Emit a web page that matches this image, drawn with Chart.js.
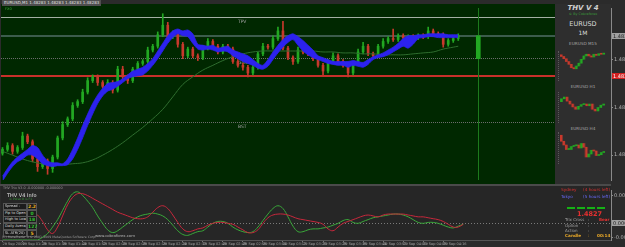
<!DOCTYPE html>
<html>
<head>
<meta charset="utf-8">
<script src="https://cdn.jsdelivr.net/npm/chart.js@4.4.1/dist/chart.umd.min.js"></script>
<style>
  html, body { margin: 0; padding: 0; background: #2b2b2b; }
  #wrap { position: relative; width: 625px; height: 247px; overflow: hidden; background: #2b2b2b; font-family: "DejaVu Sans", sans-serif; }
  .a { position: absolute; white-space: nowrap; line-height: 1; }
  #mainBg { position: absolute; left: 1px; top: 4px; width: 554px; height: 180px; background: #002800; }
  #mainCv, #oscCv { position: absolute; left: 0; }
  #mainCv { top: 4px; }
  #sep { position: absolute; left: 0; top: 184px; width: 611px; height: 2px; background: #4a4a4a; }
  #oscBg { position: absolute; left: 1px; top: 186px; width: 610px; height: 54px; background: #262626; }
  #oscCv { top: 186px; }
  #panel { position: absolute; left: 555px; top: 4px; width: 56px; height: 180px; background: #2e2e2e; }
  .mini { position: absolute; left: 558px; border-left: 1px dotted #5a5a5a; }
  #info { position: absolute; left: 1px; top: 187px; width: 36px; height: 52px; background: #262626; }
  .lbl { position: absolute; left: 3px; width: 21px; height: 5px; border: 1px solid #555; background: #1c1c1c; color: #ddd; font-size: 3.6px; line-height: 5px; padding-left: 1px; white-space: nowrap; overflow: hidden; }
  .val { position: absolute; left: 27px; width: 8px; height: 5px; border: 1px solid #555; background: #1c1c1c; font-size: 4.5px; line-height: 5px; text-align: center; font-weight: bold; }
  .dash { position: absolute; top: 207px; width: 8px; height: 2px; background: #16b016; }
</style>
</head>
<body>
<div id="wrap">
  <div id="mainBg"></div>
  <canvas id="mainCv" width="625" height="180"></canvas>
  <div id="sep"></div>
  <div id="oscBg"></div>
  <canvas id="oscCv" width="625" height="61"></canvas>

  <div class="a" style="left:2px;top:0;padding:1px 2px;background:#4e4e4e;color:#e0e0e0;font-size:4px;">EURUSD,M1 1.48283 1.48283 1.48283 1.48283</div>
  <div class="a" style="left:5px;top:8px;color:#3aa03a;font-size:3.6px;">FX0</div>

  <div id="panel"></div>
  <div class="a" style="left:555px;width:56px;top:5px;text-align:center;color:#d0d0d0;font-size:7px;font-style:italic;font-weight:bold;">THV V 4</div>
  <div class="a" style="left:555px;width:56px;top:13px;text-align:center;color:#3a9a3a;font-size:3.4px;">© By Cobraforex</div>
  <div class="a" style="left:555px;width:56px;top:21px;text-align:center;color:#dadada;font-size:6.5px;">EURUSD</div>
  <div class="a" style="left:555px;width:56px;top:30px;text-align:center;color:#dadada;font-size:6px;">1M</div>
  <div class="a" style="left:555px;width:56px;top:42px;text-align:center;color:#a8a8a8;font-size:4.2px;">EURUSD M15</div>
  <div class="a" style="left:555px;width:56px;top:85px;text-align:center;color:#a8a8a8;font-size:4.2px;">EURUSD H1</div>
  <div class="a" style="left:555px;width:56px;top:127px;text-align:center;color:#a8a8a8;font-size:4.2px;">EURUSD H4</div>
  <canvas id="m15" class="mini" width="48" height="30" style="top:51px;"></canvas>
  <canvas id="h1" class="mini" width="48" height="31" style="top:92px;"></canvas>
  <canvas id="h4" class="mini" width="48" height="32" style="top:132px;"></canvas>

  <div id="info"></div>
  <div class="a" style="left:3px;top:187px;color:#9a9a9a;font-size:3.4px;">THV Trix V3.0 -0.000000 -0.000000</div>
  <div class="a" style="left:7px;top:193px;color:#e0e0e0;font-size:5px;">THV V4 Info</div>
  <div class="a" style="left:9px;top:198px;color:#3a9a3a;font-size:3px;">© Pulse O is F1</div>
  <div class="lbl" style="top:203px;">Spread :</div><div class="val" style="top:203px;color:#e8b020;">2.2</div>
  <div class="lbl" style="top:210px;">Pip to Open :</div><div class="val" style="top:210px;color:#30c030;">0</div>
  <div class="lbl" style="top:216px;">High to Low :</div><div class="val" style="top:216px;color:#30c030;">18</div>
  <div class="lbl" style="top:223px;">Daily Average :</div><div class="val" style="top:223px;color:#30c030;">127</div>
  <div class="lbl" style="top:230px;">SL ATR(20) SL :</div><div class="val" style="top:230px;color:#e8b020;">5</div>
  <div class="a" style="left:2px;top:236px;color:#9a9a9a;font-size:3.2px;">(C) MetaTrader 4 © 2001-2009 MetaQuotes Software Corp.</div>
  <div class="a" style="left:95px;top:234px;color:#b8b8b8;font-size:3.8px;">www.cobraforex.com</div>

  <div class="a" style="left:561px;top:188px;color:#d83030;font-size:4.2px;">Sydney</div>
  <div class="a" style="left:583px;top:188px;color:#d83030;font-size:4.2px;">(4 hours left)</div>
  <div class="a" style="left:561px;top:195px;color:#6a6aff;font-size:4.2px;">Tokyo</div>
  <div class="a" style="left:583px;top:195px;color:#6a6aff;font-size:4.2px;">(5 hours left)</div>
  <div class="dash" style="left:567px;"></div><div class="dash" style="left:577px;"></div>
  <div class="dash" style="left:587px;"></div><div class="dash" style="left:597px;"></div>
  <div class="a" style="left:577px;top:211px;color:#e83030;font-size:6.5px;font-weight:bold;">1.4827</div>
  <div class="a" style="left:565px;top:218px;color:#a0a0a0;font-size:4px;">Trix Cross</div>
  <div class="a" style="left:588px;top:218px;color:#a0a0a0;font-size:4px;">:</div>
  <div class="a" style="left:599px;top:218px;color:#e83030;font-size:4px;font-weight:bold;">Bear</div>
  <div class="a" style="left:565px;top:224px;color:#a0a0a0;font-size:4px;">Option</div>
  <div class="a" style="left:588px;top:224px;color:#a0a0a0;font-size:4px;">:</div>
  <div class="a" style="left:565px;top:229px;color:#a0a0a0;font-size:4px;">Action</div>
  <div class="a" style="left:588px;top:229px;color:#a0a0a0;font-size:4px;">:</div>
  <div class="a" style="left:565px;top:234px;color:#e8a828;font-size:4.2px;font-weight:bold;">Candle</div>
  <div class="a" style="left:588px;top:234px;color:#e8a828;font-size:4.2px;">:</div>
  <div class="a" style="left:597px;top:234px;color:#e8a828;font-size:4.2px;font-weight:bold;">00:14</div>
</div>

<script>
// ---- price data (EURUSD M1) ----
const PIP = 0.0001;
const firstOpen = 1.48104;
const closes = [
  1.48112, 1.48120, 1.48108, 1.48116, 1.48140, 1.48128, 1.48092, 1.48076, 1.48088, 1.48072,
  1.48096, 1.48136, 1.48164, 1.48176, 1.48204, 1.48212, 1.48232, 1.48256, 1.48264, 1.48252,
  1.48244, 1.48252, 1.48236, 1.48280, 1.48264, 1.48256, 1.48280, 1.48292, 1.48296, 1.48320,
  1.48328, 1.48352, 1.48372, 1.48348, 1.48356, 1.48332, 1.48308, 1.48322, 1.48308, 1.48304,
  1.48324, 1.48338, 1.48328, 1.48316, 1.48328, 1.48322, 1.48296, 1.48288, 1.48284, 1.48272,
  1.48284, 1.48312, 1.48328, 1.48326, 1.48344, 1.48360, 1.48324, 1.48304, 1.48296, 1.48320,
  1.48316, 1.48312, 1.48302, 1.48288, 1.48276, 1.48296, 1.48308, 1.48296, 1.48288, 1.48272,
  1.48292, 1.48316, 1.48328, 1.48312, 1.48308, 1.48328, 1.48338, 1.48344, 1.48342, 1.48350,
  1.48346, 1.48348, 1.48346, 1.48350, 1.48348, 1.48360, 1.48354, 1.48352, 1.48332, 1.48340,
  1.48344, 1.48350
];
// wick lengths in pips
const wickUp = [
  0.4, 0.6, 0.4, 0.4, 0.8, 0.4, 0.4, 0.4, 0.6, 0.4,
  0.4, 0.4, 0.6, 0.4, 0.6, 0.4, 0.6, 0.6, 0.4, 0.4,
  0.4, 0.6, 0.4, 0.6, 0.6, 0.4, 0.4, 0.4, 0.4, 0.6,
  0.4, 0.6, 2.4, 0.6, 0.4, 0.4, 0.4, 0.4, 0.4, 0.4,
  0.6, 0.6, 0.4, 0.4, 0.4, 0.4, 0.4, 0.4, 0.4, 0.4,
  0.4, 0.4, 0.6, 0.4, 0.6, 0.8, 2.0, 0.4, 0.4, 0.6,
  0.4, 0.4, 0.4, 0.4, 0.4, 0.4, 0.6, 0.4, 0.4, 0.4,
  0.4, 0.6, 0.8, 0.4, 0.4, 0.4, 0.6, 0.4, 2.0, 0.4,
  0.4, 0.4, 0.4, 0.4, 0.4, 0.8, 0.4, 0.4, 0.4, 0.4,
  0.6, 0.4
];
const wickDn = [
  0.4, 0.4, 0.6, 0.4, 0.4, 0.4, 0.6, 1.0, 0.4, 1.2,
  0.8, 0.4, 0.4, 0.4, 0.4, 0.4, 0.4, 0.4, 0.4, 0.6,
  0.4, 0.4, 0.6, 0.4, 0.4, 0.6, 0.4, 0.4, 0.4, 0.4,
  0.4, 0.4, 0.4, 0.4, 0.4, 0.6, 0.6, 0.4, 0.4, 0.6,
  0.4, 0.4, 0.4, 0.4, 0.4, 0.4, 0.4, 0.4, 0.6, 0.8,
  0.4, 0.4, 0.4, 0.4, 0.4, 0.4, 0.4, 0.4, 0.6, 0.4,
  0.4, 0.4, 0.4, 0.4, 0.8, 0.4, 0.4, 0.4, 0.4, 0.8,
  0.4, 0.4, 0.4, 0.4, 0.6, 0.4, 0.4, 0.4, 0.4, 0.4,
  0.4, 0.4, 0.4, 0.4, 0.4, 0.4, 0.4, 0.4, 0.6, 0.4,
  0.4, 0.4
];
// blue band (upper / lower edge)
const bandTop = [
  1.48056, 1.48072, 1.48086, 1.48096, 1.48104, 1.48112, 1.48120, 1.48116, 1.48100, 1.48088,
  1.48084, 1.48084, 1.48082, 1.48092, 1.48112, 1.48136, 1.48162, 1.48186, 1.48208, 1.48226,
  1.48240, 1.48250, 1.48252, 1.48254, 1.48260, 1.48268, 1.48276, 1.48280, 1.48284, 1.48292,
  1.48302, 1.48318, 1.48334, 1.48350, 1.48360, 1.48364, 1.48360, 1.48362, 1.48354, 1.48332,
  1.48330, 1.48328, 1.48330, 1.48324, 1.48326, 1.48328, 1.48320, 1.48316, 1.48312, 1.48308,
  1.48300, 1.48292, 1.48288, 1.48300, 1.48316, 1.48330, 1.48342, 1.48350, 1.48354, 1.48348,
  1.48340, 1.48330, 1.48320, 1.48308, 1.48304, 1.48300, 1.48296, 1.48296, 1.48296, 1.48296,
  1.48298, 1.48296, 1.48294, 1.48300, 1.48306, 1.48310, 1.48314, 1.48320, 1.48326, 1.48334,
  1.48344, 1.48350, 1.48350, 1.48352, 1.48352, 1.48354, 1.48354, 1.48354, 1.48354, 1.48352,
  1.48352, 1.48352
];
const bandBottom = [
  1.48046, 1.48062, 1.48076, 1.48086, 1.48092, 1.48100, 1.48100, 1.48092, 1.48082, 1.48078,
  1.48076, 1.48078, 1.48078, 1.48080, 1.48092, 1.48112, 1.48136, 1.48162, 1.48186, 1.48208,
  1.48224, 1.48234, 1.48238, 1.48244, 1.48252, 1.48260, 1.48264, 1.48266, 1.48268, 1.48276,
  1.48288, 1.48302, 1.48318, 1.48334, 1.48346, 1.48354, 1.48350, 1.48348, 1.48334, 1.48322,
  1.48320, 1.48322, 1.48320, 1.48316, 1.48318, 1.48316, 1.48308, 1.48302, 1.48296, 1.48292,
  1.48288, 1.48282, 1.48280, 1.48286, 1.48300, 1.48314, 1.48326, 1.48336, 1.48342, 1.48330,
  1.48318, 1.48310, 1.48304, 1.48300, 1.48296, 1.48292, 1.48290, 1.48288, 1.48288, 1.48284,
  1.48288, 1.48286, 1.48284, 1.48290, 1.48300, 1.48304, 1.48306, 1.48310, 1.48316, 1.48322,
  1.48328, 1.48324, 1.48332, 1.48344, 1.48346, 1.48348, 1.48348, 1.48346, 1.48346, 1.48346,
  1.48346, 1.48346
];
// slow moving average
const maLine = [
  1.48108, null, 1.48100, null, 1.48092, null, 1.48086, null, 1.48082, null,
  1.48080, null, 1.48080, null, 1.48082, null, 1.48084, null, 1.48090, null,
  1.48100, null, 1.48112, null, 1.48126, null, 1.48142, null, 1.48158, null,
  1.48176, null, 1.48196, null, 1.48222, null, 1.48248, null, 1.48264, null,
  1.48278, null, 1.48288, null, 1.48298, null, 1.48306, null, 1.48312, null,
  1.48316, null, 1.48318, null, 1.48318, null, 1.48318, null, 1.48318, null,
  1.48318, null, 1.48318, null, 1.48316, null, 1.48316, null, 1.48314, null,
  1.48314, null, 1.48312, null, 1.48312, null, 1.48310, null, 1.48310, null,
  1.48310, null, 1.48312, null, 1.48314, null, 1.48316, null, 1.48322, null,
  1.48326, 1.48328
];
const signalBar = [1.48302, 1.48350];
const signalIndex = 95;
const levelPrices = [1.48390, 1.48350, 1.48304, 1.48266, 1.48170];
const levelNames = ["TPV", "", "Green", "", "BST"];
const bidPrice = 1.48350;
const markPrice = 1.48266;

// ---- oscillator (THV Trix) ----
const oscRed = [
  2.2, 2.0, 1.8, 1.6, 1.5, 1.4, 1.2, 0.9, 0.2, -0.7,
  -1.1, -0.4, 0.8, 2.0, 2.8, 3.2, 3.2, 3.0, 2.7, 2.4,
  2.1, 1.8, 1.5, 1.2, 1.0, 0.8, 0.6, 0.5, 0.5, 0.7,
  1.2, 1.7, 1.9, 1.6, 0.9, 0.1, -0.6, -0.9, -0.8, -0.6,
  -0.5, -0.2, 0.0, 0.1, 0.1, 0.0, -0.1, -0.4, -0.7, -1.0,
  -1.0, -0.7, 0.0, 0.6, 0.9, 1.0, 1.0, 0.9, 0.7, 0.5,
  0.4, 0.3, 0.2, 0.1, -0.1, -0.6, -0.8, -0.4, 0.0, 0.2,
  0.4, 0.6, 0.8, 0.9, 0.8, 0.7, 0.9, 1.0, 1.0, 1.0,
  1.0, 0.9, 0.8, 0.7, 0.7, 0.6, 0.5, 0.4, 0.2, -0.1,
  -0.4, -0.4, -0.1
];
const oscGreen = [
  -1.8, -1.8, -1.8, -1.8, -1.8, -1.8, -1.8, -1.8, -1.5, -1.1,
  -0.4, 0.4, 1.4, 2.4, 3.2, 3.4, 3.0, 2.4, 1.7, 0.8,
  0.0, -0.7, -1.0, -0.8, -0.4, 0.0, 0.4, 0.7, 0.9, 1.0,
  1.1, 1.0, 0.8, 0.4, -0.2, -0.8, -1.2, -1.3, -1.1, -0.9,
  -0.8, -0.4, 0.0, 0.2, 0.2, 0.0, -0.4, -0.7, -0.9, -1.0,
  -0.9, -0.4, 0.3, 1.0, 1.6, 1.9, 1.6, 0.7, -0.3, -0.9,
  -0.9, -0.7, -0.6, -0.6, -0.5, -0.4, -0.2, 0.0, 0.3, 0.4,
  0.1, 0.0, 0.2, 0.4, 0.6, 0.7, 0.8, 0.9, 1.0, 1.0,
  0.9, 0.7, 0.4, 0.1, 0.0, 0.1, 0.1, 0.0, -0.2, -0.4,
  -0.5, -0.3, -0.1
];
const timeTicks = [
  "29 Sep 2009", "29 Sep 01:28", "29 Sep 01:36", "29 Sep 01:44", "29 Sep 01:52", "29 Sep 02:00",
  "29 Sep 02:08", "29 Sep 02:16", "29 Sep 02:24", "29 Sep 02:32", "29 Sep 02:40", "29 Sep 02:48",
  "29 Sep 02:56", "29 Sep 03:04", "29 Sep 03:12", "29 Sep 03:20", "29 Sep 03:28", "29 Sep 03:36",
  "29 Sep 03:44", "29 Sep 03:52", "29 Sep 04:00", "29 Sep 04:08", "29 Sep 04:16"
];

// ---- mini charts (right panel) ----
const m15Open = 1.4845;
const m15Closes = [1.4842, 1.4838, 1.4833, 1.4828, 1.4822, 1.4820, 1.4825, 1.4830, 1.4837, 1.4843, 1.4846, 1.4843, 1.4841, 1.4846, 1.4844, 1.4847, 1.4846, 1.4848];
const h1Open = 1.4870;
const h1Closes = [1.4880, 1.4886, 1.4872, 1.4862, 1.4852, 1.4844, 1.4854, 1.4860, 1.4862, 1.4856, 1.4862, 1.4844, 1.4838, 1.4850, 1.4858, 1.4862];
const h4Open = 1.4785;
const h4Closes = [1.4745, 1.4720, 1.4690, 1.4690, 1.4710, 1.4715, 1.4720, 1.4700, 1.4730, 1.4705, 1.4640, 1.4660, 1.4685, 1.4680, 1.4650, 1.4655, 1.4670, 1.4670];

const UP = "#22a822";
const DOWN = "#c8392c";
const BAND = "#2c22ee";
const N = 122;
const cats = Array.from({ length: N }, (_, i) => i);
const FONT = '"DejaVu Sans", sans-serif';

const opens = closes.map((c, i) => (i === 0 ? firstOpen : closes[i - 1]));
const bodies = closes.map((c, i) => [opens[i], c]);
const wicks = closes.map((c, i) => [Math.min(opens[i], c) - wickDn[i] * PIP, Math.max(opens[i], c) + wickUp[i] * PIP]);
const candleCol = closes.map((c, i) => (c >= opens[i] ? UP : DOWN));
const signalData = cats.map((i) => (i === signalIndex ? signalBar : null));

const levelStyles = [
  { color: "#a4b0a4", width: 1, dash: [] },
  { color: "#3c5c4c", width: 2, dash: [] },
  { color: "#6c6c6c", width: 1, dash: [1, 1] },
  { color: "#c8302a", width: 2, dash: [] },
  { color: "#6c6c6c", width: 1, dash: [1, 1] },
];

const fixWidth = (w) => (scale) => { scale.width = w; };

const paneLines = {
  id: "paneLines",
  beforeDatasetsDraw(chart) {
    const { ctx, chartArea: a, scales: { x, y } } = chart;
    ctx.save();
    levelPrices.forEach((p, k) => {
      const st = levelStyles[k];
      const py = Math.round(y.getPixelForValue(p)) + (st.width === 1 ? 0.5 : 0);
      ctx.strokeStyle = st.color;
      ctx.lineWidth = st.width;
      ctx.setLineDash(st.dash);
      ctx.beginPath();
      ctx.moveTo(a.left + 1, py);
      ctx.lineTo(a.right, py);
      ctx.stroke();
      if (levelNames[k]) {
        ctx.fillStyle = "#a0a0a0";
        ctx.font = "4.5px " + FONT;
        ctx.fillText(levelNames[k], x.getPixelForValue(47), py + 5);
      }
    });
    ctx.setLineDash([]);
    const vx = Math.round(x.getPixelForValue(signalIndex)) + 0.5;
    ctx.strokeStyle = "#1c7a1c";
    ctx.lineWidth = 1;
    ctx.beginPath();
    ctx.moveTo(vx, a.top);
    ctx.lineTo(vx, a.bottom);
    ctx.stroke();
    ctx.restore();
  },
};

const priceTags = {
  id: "priceTags",
  afterDraw(chart) {
    const { ctx, chartArea: a, scales: { y } } = chart;
    ctx.save();
    [[bidPrice, "#a0a0a0", "#1a1a1a"], [markPrice, "#d42020", "#ffffff"]].forEach(([p, bg, fg]) => {
      const py = Math.round(y.getPixelForValue(p));
      ctx.fillStyle = bg;
      ctx.fillRect(a.right + 1, py - 3, 16, 6);
      ctx.fillStyle = fg;
      ctx.font = "5px " + FONT;
      ctx.textBaseline = "middle";
      ctx.fillText(p.toFixed(4), a.right + 2, py + 0.5);
    });
    ctx.restore();
  },
};

new Chart(document.getElementById("mainCv"), {
  type: "bar",
  data: {
    labels: cats,
    datasets: [
      { type: "line", data: bandTop, borderColor: BAND, borderWidth: 0.8, pointRadius: 0, tension: 0.25, fill: false, order: 0 },
      { type: "line", data: bandBottom, borderColor: BAND, backgroundColor: BAND, borderWidth: 0.8, pointRadius: 0, tension: 0.25, fill: "-1", order: 0 },
      { type: "line", data: maLine, borderColor: "#2f6e2f", borderWidth: 1, pointRadius: 0, tension: 0.4, spanGaps: true, order: 1 },
      { data: bodies, backgroundColor: candleCol, barThickness: 2, minBarLength: 1, grouped: false, order: 2 },
      { data: wicks, backgroundColor: candleCol, barThickness: 1, grouped: false, order: 3 },
      { data: signalData, backgroundColor: UP, barThickness: 4, grouped: false, order: 2 },
    ],
  },
  options: {
    responsive: false,
    animation: false,
    layout: { padding: 0, autoPadding: false },
    plugins: { legend: { display: false }, tooltip: { enabled: false } },
    scales: {
      x: { type: "category", offset: true, display: false },
      y: {
        position: "right",
        min: 1.48048,
        max: 1.48408,
        beginAtZero: false,
        afterFit: fixWidth(14),
        afterBuildTicks: (ax) => {
          ax.ticks = ax.ticks.filter((t) => Math.abs(t.value * 5000 - Math.round(t.value * 5000)) < 1e-6);
        },
        ticks: { color: "#b4b4b4", font: { size: 5, family: FONT }, padding: 1, callback: (v) => v.toFixed(4) },
        grid: { drawOnChartArea: false, drawTicks: true, tickLength: 2, color: "#8a8a8a" },
        border: { display: true, color: "#8a8a8a" },
      },
    },
  },
  plugins: [paneLines, priceTags],
});

const oscDeco = {
  id: "oscDeco",
  beforeDatasetsDraw(chart) {
    const { ctx, chartArea: a, scales: { y } } = chart;
    const py = Math.round(y.getPixelForValue(0)) + 0.5;
    ctx.save();
    ctx.strokeStyle = "#7a7a7a";
    ctx.lineWidth = 1;
    ctx.setLineDash([1, 2]);
    ctx.beginPath();
    ctx.moveTo(a.left, py);
    ctx.lineTo(a.right, py);
    ctx.stroke();
    ctx.restore();
  },
  afterDraw(chart) {
    const { ctx, chartArea: a, scales: { y } } = chart;
    const py = Math.round(y.getPixelForValue(0));
    ctx.save();
    ctx.fillStyle = "#a0a0a0";
    ctx.fillRect(a.right + 1, py - 3, 16, 6);
    ctx.fillStyle = "#1a1a1a";
    ctx.font = "5px " + FONT;
    ctx.textBaseline = "middle";
    ctx.fillText("0.0000", a.right + 2, py + 0.5);
    ctx.restore();
  },
};

new Chart(document.getElementById("oscCv"), {
  type: "line",
  data: {
    labels: cats,
    datasets: [
      { data: oscRed, borderColor: "#c8283c", borderWidth: 1, pointRadius: 0, tension: 0.4 },
      { data: oscGreen, borderColor: "#3aa83a", borderWidth: 1, pointRadius: 0, tension: 0.4 },
    ],
  },
  options: {
    responsive: false,
    animation: false,
    layout: { padding: 0, autoPadding: false },
    plugins: { legend: { display: false }, tooltip: { enabled: false } },
    scales: {
      x: {
        type: "category",
        offset: true,
        afterFit: (s) => { s.height = 7; },
        ticks: {
          autoSkip: false,
          maxRotation: 0,
          align: "start",
          padding: 0,
          color: "#a0a0a0",
          font: { size: 3.5, family: FONT },
          callback: (v, i) => (i % 4 === 0 && timeTicks[i / 4]) ? timeTicks[i / 4] : "",
        },
        grid: { drawOnChartArea: false, drawTicks: true, tickLength: 2, color: (c) => (c.index % 4 === 0 && c.index < 92 ? "#777" : "transparent") },
        border: { display: true, color: "#555" },
      },
      y: {
        position: "right",
        min: -1.8,
        max: 3.6,
        afterFit: fixWidth(14),
        afterBuildTicks: (ax) => { ax.ticks = [{ value: 3 }, { value: -1.5 }]; },
        ticks: { color: "#b4b4b4", font: { size: 5, family: FONT }, padding: 1, callback: (v) => (v / 10000).toFixed(5) },
        grid: { drawOnChartArea: false, tickLength: 2, color: "#8a8a8a" },
        border: { display: true, color: "#8a8a8a" },
      },
    },
  },
  plugins: [oscDeco],
});

function miniChart(id, open0, cl) {
  const op = cl.map((c, i) => (i === 0 ? open0 : cl[i - 1]));
  new Chart(document.getElementById(id), {
    type: "bar",
    data: {
      labels: cl.map((_, i) => i),
      datasets: [{
        data: cl.map((c, i) => [op[i], c]),
        backgroundColor: cl.map((c, i) => (c >= op[i] ? UP : DOWN)),
        barThickness: 2,
        minBarLength: 1,
      }],
    },
    options: {
      responsive: false,
      animation: false,
      layout: { padding: 1 },
      plugins: { legend: { display: false }, tooltip: { enabled: false } },
      scales: { x: { display: false }, y: { display: false, beginAtZero: false } },
    },
  });
}
miniChart("m15", m15Open, m15Closes);
miniChart("h1", h1Open, h1Closes);
miniChart("h4", h4Open, h4Closes);
</script>
</body>
</html>
